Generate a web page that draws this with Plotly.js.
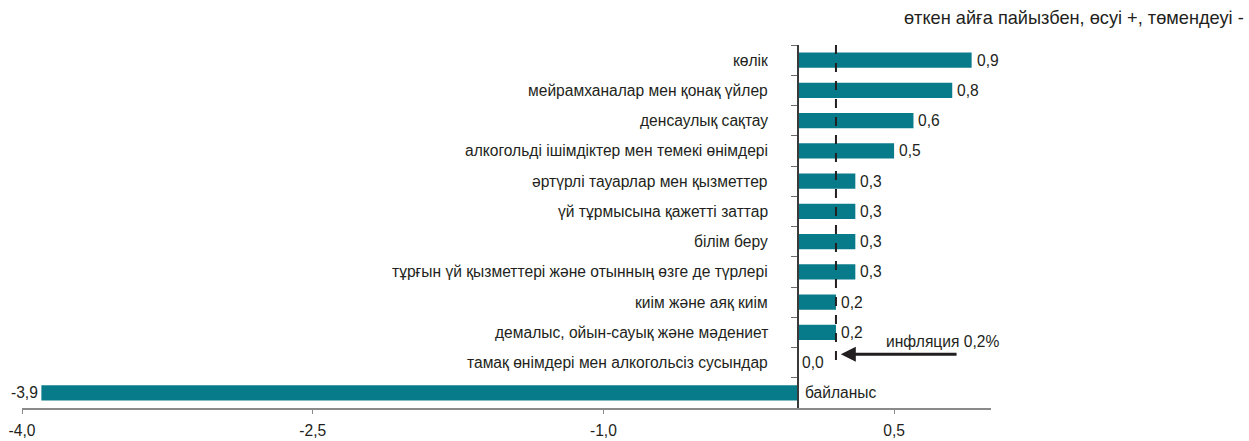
<!DOCTYPE html>
<html><head><meta charset="utf-8">
<script src="https://cdn.plot.ly/plotly-3.0.1.min.js"></script>
<style>html,body{margin:0;padding:0;background:#fff}#chart{width:1249px;height:441px}</style>
</head><body><div id="chart"></div>
<script>
const categories = [
  "көлік",
  "мейрамханалар мен қонақ үйлер",
  "денсаулық сақтау",
  "алкогольді ішімдіктер мен темекі өнімдері",
  "әртүрлі тауарлар мен қызметтер",
  "үй тұрмысына қажетті заттар",
  "білім беру",
  "тұрғын үй қызметтері және отынның өзге де түрлері",
  "киім және аяқ киім",
  "демалыс, ойын-сауық және мәдениет",
  "тамақ өнімдері мен алкогольсіз сусындар",
  "байланыс"
];
const values = [0.9, 0.8, 0.6, 0.5, 0.3, 0.3, 0.3, 0.3, 0.2, 0.2, 0.0, -3.9];
const xTickVals = [-4.0, -2.5, -1.0, 0.5];
const xTickText = ["-4,0", "-2,5", "-1,0", "0,5"];
const xRange = [-4, 1];
const inflation = 0.2;
const inflationLabel = "инфляция 0,2%";
const unitNote = "өткен айға пайызбен, өсуі +, төмендеуі -";

const FONT = "Liberation Sans, Arial, Helvetica, sans-serif";
const FS = 15.6;
const TXT = "#231f20";
const BAR = "#087b8a";

const fmt = v => v.toFixed(1).replace(".", ",").replace("-", "-");

const trace = {
  type: "bar",
  orientation: "h",
  y: categories,
  x: values,
  marker: {color: BAR, line: {width: 0}},
  hoverinfo: "skip"
};

const annotations = [];
categories.forEach((c, i) => {
  const v = values[i];
  annotations.push({
    x: 0, y: c, xref: "x", yref: "y", text: c, showarrow: false,
    xanchor: v < 0 ? "left" : "right", xshift: v < 0 ? 6 : -27,
    font: {family: FONT, size: FS, color: TXT}
  });
  annotations.push({
    x: v, y: c, xref: "x", yref: "y", text: fmt(v), showarrow: false,
    xanchor: v < 0 ? "right" : "left", xshift: v < 0 ? -1 : 3,
    font: {family: FONT, size: FS, color: TXT}
  });
});
annotations.push({
  x: inflation + 0.025, y: 9.72, xref: "x", yref: "y",
  ax: 0.83, ay: 9.72, axref: "x", ayref: "y",
  text: "", showarrow: true, arrowhead: 2, arrowsize: 1, arrowwidth: 3, arrowcolor: "#231f20"
});
annotations.push({
  x: 0.75, y: 9.3, xref: "x", yref: "y", text: inflationLabel, showarrow: false,
  xanchor: "center", font: {family: FONT, size: FS, color: TXT}
});
annotations.push({
  x: 1, y: 1, xref: "paper", yref: "paper", text: unitNote, showarrow: false,
  xanchor: "right", yanchor: "middle", xshift: 255, yshift: 27,
  font: {family: FONT, size: 18.2, color: TXT}
});

const layout = {
  width: 1249, height: 441,
  margin: {l: 22, r: 258, t: 45, b: 33, pad: 0},
  paper_bgcolor: "#fff", plot_bgcolor: "#fff",
  showlegend: false,
  bargap: 0.5,
  font: {family: FONT, size: FS, color: TXT},
  xaxis: {
    range: xRange, tickvals: xTickVals, ticktext: xTickText,
    showgrid: false, zeroline: false,
    showline: true, linecolor: "#8a8a8a", linewidth: 1.5,
    ticks: "outside", ticklen: 4, tickcolor: "#8a8a8a", tickwidth: 1,
    ticklabelstandoff: 4,
    tickfont: {family: FONT, size: FS, color: TXT}
  },
  yaxis: {
    type: "category", categoryorder: "array", categoryarray: categories,
    range: [categories.length - 0.5, -0.5],
    anchor: "free", position: (0 - xRange[0]) / (xRange[1] - xRange[0]),
    showgrid: false, zeroline: false, showticklabels: false,
    showline: true, linecolor: "#3a3a3a", linewidth: 1.5,
    ticks: "outside", tickson: "boundaries", ticklen: 6, tickcolor: "#6a6a6a", tickwidth: 1
  },
  shapes: [{
    type: "line", xref: "x", yref: "y",
    x0: inflation, x1: inflation, y0: -0.5, y1: 10.18,
    line: {color: "#231f20", width: 2, dash: "dash"}
  }],
  annotations: annotations
};

Plotly.newPlot("chart", [trace], layout, {displayModeBar: false, staticPlot: true});
</script>
</body></html>
